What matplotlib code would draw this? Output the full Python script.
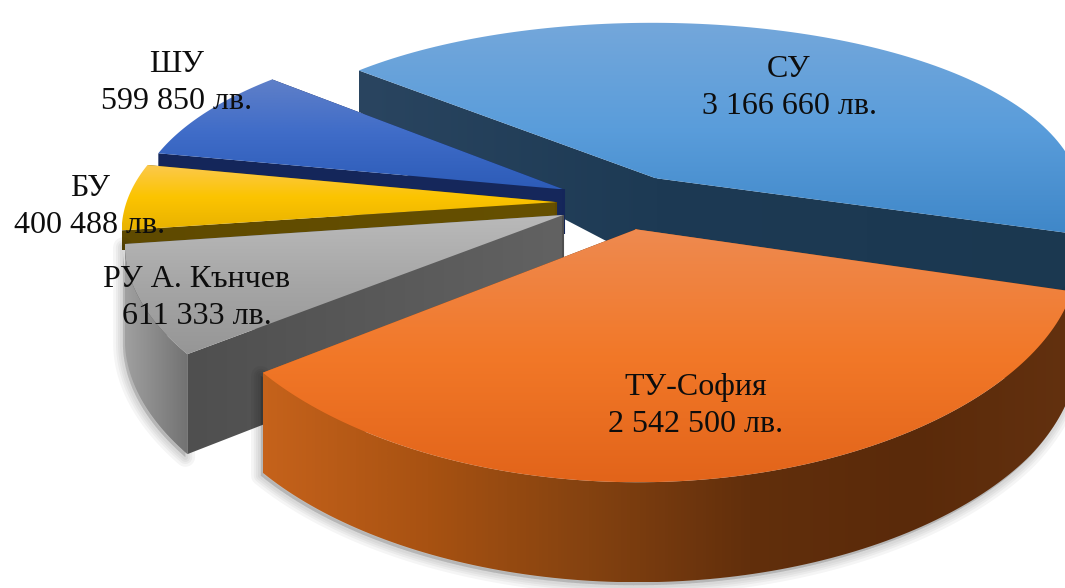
import numpy as np
import matplotlib
matplotlib.use('Agg')
import matplotlib.pyplot as plt
from matplotlib.patches import Polygon
from matplotlib.colors import LinearSegmentedColormap as LSC

names = ['СУ', 'ТУ-София', 'РУ А. Кънчев', 'БУ', 'ШУ']
values = [3166660, 2542500, 611333, 400488, 599850]
label_pos = [(789, 88), (696, 406), (197, 298), (90, 207), (177, 83)]
top_cols = [('#74a7da', '#5a9ddb', '#3f87c8'), ('#ee8a50', '#f27828', '#e2641a'), ('#bababa', '#a6a6a6', '#969696'),
            ('#fbc94f', '#fcc400', '#e8b200'), ('#6080c8', '#3f6cc8', '#2d5cb8')]
start_wall_cols = [('#2a4560', '#1d3a54'), ('#c2601a', '#5a2a0a'), ('#4f4f4f', '#626262'), ('#5f4a00', '#665000'), ('#14265a', '#16285c')]
end_wall_cols = [('#1d3a54', '#1b3850'), ('#c2601a', '#5a2a0a'), ('#4f4f4f', '#626262'), ('#5f4a00', '#665000'), ('#14265a', '#16285c')]
rim_cols = [('#1d3d59', '#183650'), ('#c5621b', '#a85212', '#844210', '#622f0c', '#5a2a0a', '#63310f'), ('#a0a0a0', '#727272'), None, None]
wall_cap = [999, 999, 999, 20, 45]
first_angle = 311.0
explode = [0.15, 0.135, 0.155, 0.16, 0.16]
K, PX, PY, SIN_EL, CX, CY = 430.0, 0.13, 0.19, 0.45, 625.0, 203.0
H_Y = [66, 157, 215, 355, 483]
H_V = [39, 86, 93, 100, 100]

fig = plt.figure(figsize=(10.65, 5.88), dpi=100)
ax = fig.add_axes([0, 0, 1, 1])
ax.set_axis_off()


def proj(X, Y):
    X, Y = np.asarray(X), np.asarray(Y)
    return CX + X * K / (1 + PX * Y), CY - SIN_EL * Y * K / (1 + PY * Y)


def grad_poly(xy, cols, vertical=True, z=1):
    xy = np.asarray(xy)
    x0, y0 = xy.min(axis=0)
    x1, y1 = xy.max(axis=0)
    g = np.linspace(0, 1, 256)
    g = g[:, None] if vertical else g[None, :]
    im = ax.imshow(g, cmap=LSC.from_list('c', cols), vmin=0, vmax=1, extent=(x0, x1, y1, y0),
                   aspect='auto', interpolation='bilinear', zorder=z)
    im.set_clip_path(Polygon(xy, closed=True, transform=ax.transData))


def drop(xy, cap=999):
    xy = np.asarray(xy, float)
    return np.c_[xy[:, 0], xy[:, 1] + np.minimum(np.interp(xy[:, 1], H_Y, H_V), cap)]


def wall(top, cols, vertical, z, cap=999):
    top = np.asarray(top)
    grad_poly(np.r_[top, drop(top, cap)[::-1]], cols, vertical, z)


def shadow(xy, z):
    xy = np.asarray(xy) + [-2, 3]
    for lw in (14, 10, 7, 4):
        ax.add_patch(Polygon(xy, closed=True, fc='k', ec='k', alpha=0.04, lw=lw, zorder=z, joinstyle='round'))


fr = np.array(values) / sum(values)
starts = first_angle + 360 * np.r_[0, np.cumsum(fr)[:-1]]
order = [0, 4, 3, 2, 1]
z = 1
for i in order:
    a0 = np.radians(starts[i])
    a1 = a0 + np.radians(360 * fr[i])
    m = (a0 + a1) / 2
    ox, oy = explode[i] * np.sin(m), explode[i] * np.cos(m)
    t = np.linspace(a0, a1, 120)
    rx, ry = proj(ox + np.sin(t), oy + np.cos(t))
    ax_, ay_ = proj(ox, oy)
    rim = np.c_[rx, ry]
    apex = np.array([[ax_, ay_]])
    front = np.cos(t) < 0.05
    if rim_cols[i] is not None and front.any():
        part = rim[front]
        shadow(np.r_[part, drop(part)[::-1]], z); z += 1
    # radial walls, with a stroke closing the seam where they meet at the centre
    wall(np.r_[apex, rim[-1:]], end_wall_cols[i], False, z, wall_cap[i]); z += 1
    wall(np.r_[apex, rim[:1]], start_wall_cols[i], False, z, wall_cap[i]); z += 1
    seam = np.r_[apex, drop(apex, wall_cap[i])]
    ax.plot(seam[:, 0], seam[:, 1], color=end_wall_cols[i][0], lw=1.5, zorder=z, solid_capstyle='butt'); z += 1
    # outer rim (front-facing part only)
    if rim_cols[i] is not None and front.any():
        wall(rim[front], rim_cols[i], False, z); z += 1
    grad_poly(np.r_[apex, rim], top_cols[i], True, z); z += 1

for n, v, (x, y) in zip(names, values, label_pos):
    ax.text(x, y, f"{n}\n{v:,} лв.".replace(',', ' '), ha='center', va='center', fontsize=23,
            family='Liberation Serif', color='#0d0d0d', zorder=100, linespacing=1.34)

ax.set_xlim(0, 1065)
ax.set_ylim(588, 0)
fig.savefig('out.png', dpi=100)
